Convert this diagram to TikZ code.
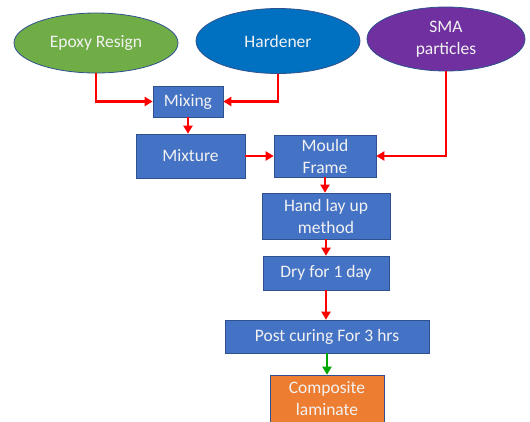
\documentclass[tikz,border=0pt]{standalone}
\usepackage{fontspec}
\setmainfont{Carlito}
\usetikzlibrary{arrows.meta,shapes.geometric}
\definecolor{cgreen}{HTML}{70AD47}
\definecolor{cblue}{HTML}{0070C0}
\definecolor{cpurple}{HTML}{7030A0}
\definecolor{cbox}{HTML}{4472C4}
\definecolor{cedge}{HTML}{2F528F}
\definecolor{corange}{HTML}{ED7D31}
\definecolor{ctext}{HTML}{F2F2F2}
\begin{document}
\begin{tikzpicture}[x=1pt,y=-1pt,
  every node/.style={font=\fontsize{17.5}{22}\selectfont, text=ctext, align=center, inner sep=0pt},
  oval/.style={ellipse, draw=cedge, line width=0.8pt},
  procbox/.style={rectangle, draw=cedge, fill=cbox, line width=0.6pt},
  arr/.style={draw=red, line width=2.4pt, -{Triangle[length=8pt,width=9pt]}},
  garr/.style={draw=green!65!black, line width=2.4pt, -{Triangle[length=8pt,width=9pt]}}]
\useasboundingbox (0,0) rectangle (530,421);
\node[oval, fill=cgreen, minimum width=164pt, minimum height=60pt] (epoxy) at (96,43) {Epoxy Resign};
\node[oval, fill=cblue, minimum width=164pt, minimum height=65pt] (hard) at (278,41) {Hardener};
\node[oval, fill=cpurple, minimum width=158pt, minimum height=64pt] (sma) at (446,39) {SMA\\particles};
\node[procbox, minimum width=70pt, minimum height=31pt] (mixing) at (188,101.5) {Mixing};
\node[procbox, minimum width=109pt, minimum height=44pt] (mixture) at (190.5,156) {Mixture};
\node[procbox, minimum width=102pt, minimum height=42pt] (mould) at (325,156) {Mould\\Frame};
\node[procbox, minimum width=128pt, minimum height=46pt] (hand) at (326,216) {Hand lay up\\method};
\node[procbox, minimum width=126pt, minimum height=34pt] (dry) at (326,273) {Dry for 1 day};
\node[procbox, minimum width=204pt, minimum height=33pt] (post) at (327,336.5) {Post curing For 3 hrs};
\node[rectangle, draw=cedge, fill=corange, line width=0.6pt, minimum width=114pt, minimum height=48pt] (comp) at (327,399) {Composite\\laminate};
\draw[arr] (epoxy.south) |- (mixing.west);
\draw[arr] (hard.south) |- (mixing.east);
\draw[arr] (sma.south) |- (mould.east);
\draw[arr] (mixing.south) -- (mixing.south |- mixture.north);
\draw[arr] (mixture.east) -- (mould.west);
\draw[arr] (mould.south) -- (mould.south |- hand.north);
\draw[arr] (hand.south) -- (hand.south |- dry.north);
\draw[arr] (dry.south) -- (dry.south |- post.north);
\draw[garr] (post.south) -- (post.south |- comp.north);
\end{tikzpicture}
\end{document}
